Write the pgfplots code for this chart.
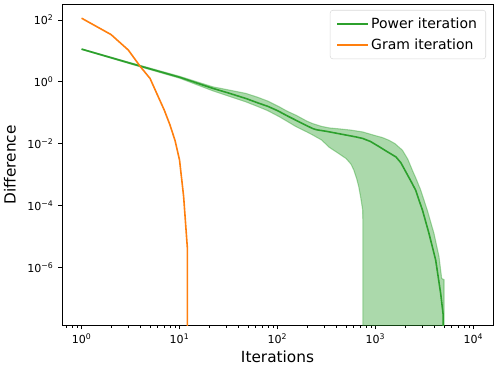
\documentclass[border=0pt]{standalone}
\usepackage{fontspec}
\setmainfont{DejaVu Sans}
\usepackage{pgfplots}
\pgfplotsset{compat=1.18}
\definecolor{tabgreen}{HTML}{2CA02C}
\definecolor{taborange}{HTML}{FF7F0E}
\begin{document}
\begin{tikzpicture}
\begin{axis}[
    name=ax,
    scale only axis,
    width=323.25pt, height=241.3pt,
    xmode=log, ymode=log,
    xmin=0.631, xmax=15849,
    ymin=1.29e-8, ymax=331,
    xtick={1,10,100,1000,10000},
    xticklabels={10\textsuperscript{0},10\textsuperscript{1},10\textsuperscript{2},10\textsuperscript{3},10\textsuperscript{4}},
    minor xtick={0.7,0.8,0.9,2,3,4,5,6,7,8,9,20,30,40,50,60,70,80,90,200,300,400,500,600,700,800,900,2000,3000,4000,5000,6000,7000,8000,9000},
    ytick={1e-6,1e-4,1e-2,1,100},
    yticklabels={10\textsuperscript{−6},10\textsuperscript{−4},10\textsuperscript{−2},10\textsuperscript{0},10\textsuperscript{2}},
    yminorticks=false,
    tick align=outside,
    tick pos=left,
    major tick length=2.8pt,
    minor tick length=1.6pt,
    every tick/.style={black, line width=0.65pt},
    minor tick style={line width=0.5pt},
    axis line style={line width=0.65pt},
    tick label style={font=\fontsize{8.3}{9}\selectfont},
    label style={font=\fontsize{11.5}{13}\selectfont},
    xlabel={Iterations},
    ylabel={Difference},
    x label style={at={([yshift=-23.5pt]axis description cs:0.5,0)}, anchor=center},
    y label style={at={([xshift=-39pt]axis description cs:0,0.5)}, anchor=center},
    legend style={
        at={([xshift=-5.25pt,yshift=-4.5pt]axis description cs:1,1)},
        anchor=north east,
        draw=black!15,
        rounded corners=2pt,
        fill=white, fill opacity=0.8, text opacity=1,
        font=\fontsize{10.5}{12}\selectfont,
        inner xsep=4.5pt, inner ysep=3.5pt,
        row sep=2.5pt,
    },
    legend cell align=left,
    legend image code/.code={\draw[#1] (0pt,0pt) -- (23pt,0pt);},
]
% spread of the power iteration runs (upper edge, then lower edge back)
\addplot[forget plot, draw=tabgreen, draw opacity=0.4, fill=tabgreen, fill opacity=0.4, line width=0.8pt] coordinates {
    (1,11.75) (3.162,4.169) (10,1.514) (21.88,0.6918) (31.62,0.5495)
    (47.86,0.4217) (63.10,0.3162) (79.43,0.2399) (104.7,0.1549)
    (125.9,0.1122) (154.9,0.08318) (199.5,0.05370) (229.1,0.04467)
    (281.8,0.03631) (338.8,0.03236) (426.6,0.03020) (562.3,0.02754)
    (741.3,0.02399) (1000,0.01820) (1175,0.01585) (1377,0.01288)
    (1585,0.01) (1884,0.006166) (2138,0.003162) (2382,0.001380)
    (2630,6.761e-4) (2897,3.162e-4) (3388,6.918e-5) (3963,1.230e-5)
    (4457,2.188e-6) (4742,4.365e-7) (5012,3.981e-7) (5012,1e-12)
    (745.0,1e-12) (744.7,1e-5) (741.3,7.079e-5) (707.9,1.778e-4)
    (676.1,3.981e-4) (645.7,7.079e-4) (602.6,0.001380) (562.3,0.002188)
    (501.2,0.003311) (426.6,0.004677) (338.8,0.007586) (281.8,0.01318)
    (229.1,0.01905) (199.5,0.02399) (154.9,0.03548) (125.9,0.05248)
    (104.7,0.07413) (79.43,0.1175) (63.10,0.1585) (47.86,0.2239)
    (31.62,0.3467) (21.88,0.5129) (10,1.318) (3.162,3.802) (1,11.22)
};
\addplot[tabgreen, line width=1.2pt] coordinates {
    (1,11.48) (3.162,3.981) (10,1.413) (21.88,0.6166) (31.62,0.4365)
    (47.86,0.2884) (63.10,0.2089) (79.43,0.1622) (100,0.1175)
    (125.9,0.07943) (158.5,0.05495) (199.5,0.03802) (229.1,0.03090)
    (251.2,0.02818) (316.2,0.02512) (398.1,0.02188) (501.2,0.01905)
    (631.0,0.01660) (741.3,0.01479) (891.3,0.01175) (1096,0.007943)
    (1259,0.006026) (1622,0.003715) (1820,0.002399) (2042,0.001230)
    (2291,6.310e-4) (2570,3.162e-4) (2786,1.479e-4) (3020,7.079e-5)
    (3524,1.230e-5) (4121,1.698e-6) (4634,1.413e-7) (4898,3.162e-8)
    (4900,1e-12)
};
\addplot[taborange, line width=1.2pt] coordinates {
    (1,115) (2,33.9) (3,10.7) (4,3.05) (5,1.29) (6,0.355) (7,0.120)
    (8,0.0398) (9,0.0126) (10,0.00295) (11,2.0e-4) (12,4.5e-6) (12,1e-12)
};
\legend{Power iteration, Gram iteration}
\end{axis}
\pgfresetboundingbox
\path ([shift={(-46.5pt,-31pt)}]ax.south west) rectangle ([shift={(3.75pt,3pt)}]ax.north east);
\end{tikzpicture}
\end{document}
